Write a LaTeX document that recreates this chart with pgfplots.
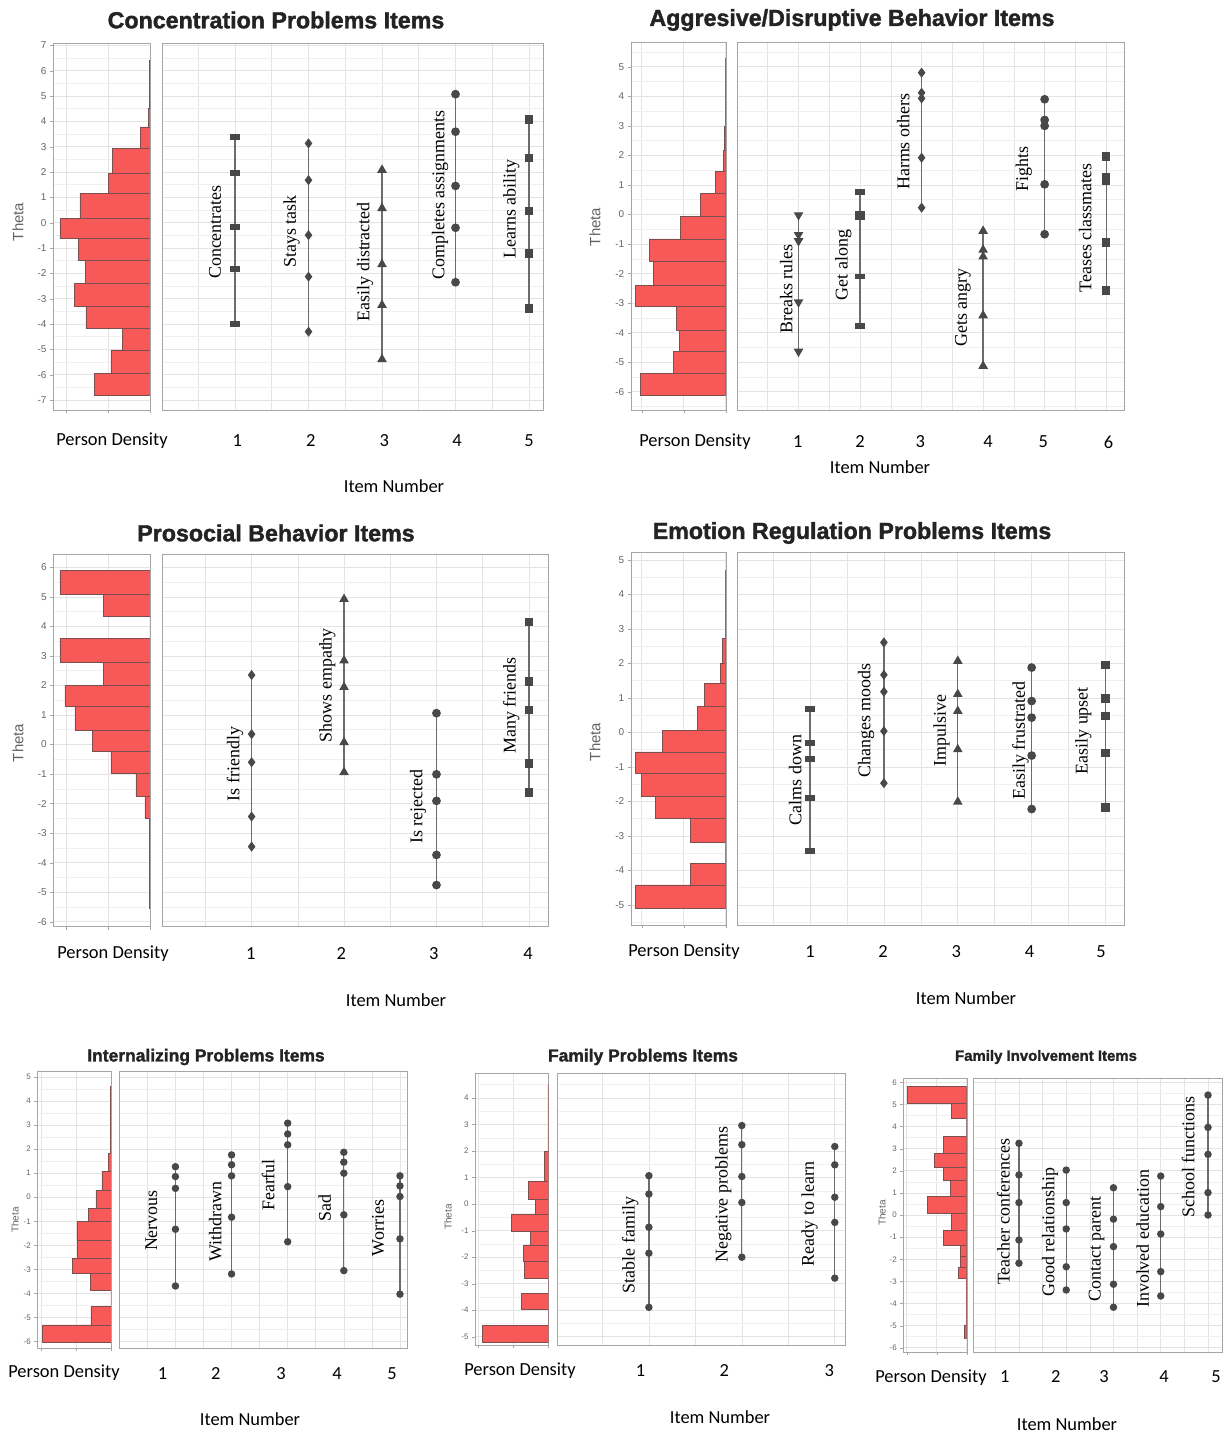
\documentclass[border=0pt]{standalone}
\usepackage{pgfplots}
\pgfplotsset{compat=1.18}
\usepackage{fontspec}
\setmainfont{Liberation Serif}
\newfontfamily\arialf{Liberation Sans}
\newfontfamily\titlef{Liberation Sans}[BoldFeatures={FakeBold=1.6}]
\newfontfamily\calf{Carlito}
\definecolor{barred}{RGB}{247,88,88}
\definecolor{bardark}{RGB}{125,78,78}
\definecolor{itemc}{RGB}{72,72,72}
\definecolor{linec}{RGB}{108,108,108}
\definecolor{gridc}{RGB}{228,228,228}
\definecolor{axc}{RGB}{165,165,165}
\definecolor{tickc}{RGB}{100,100,100}
\newcommand\lbl{\fontsize{18}{18}\selectfont}
\newcommand\calfs{\calf\fontsize{18.5}{18.5}\selectfont}
\pgfplotsset{
  base/.style={scale only axis, anchor=north west, axis line style={draw=axc},
    grid=both, major grid style={draw=gridc, line width=0.6bp},
    minor grid style={draw=gridc!55, line width=0.5bp},
    ytick distance=1, minor y tick num=1,
    /pgf/number format/assume math mode=true, tick style={draw=axc}},
  hist/.style={base, x dir=reverse, xmin=0, tick align=outside, ytick pos=left,
    xtick pos=bottom, major tick length=3bp, minor tick length=0bp, xticklabels={},
    yticklabel style={font=\arialf\fontsize{#1}{#1}\selectfont, text=tickc}},
  items/.style={base, major tick length=0bp, minor tick length=0bp, yticklabels={},
    xticklabels={}, xtick distance=0.5,
    extra x tick style={grid=none, xticklabel style={anchor=center, font=\calfs, text=black, yshift=-#1}}},
  barsty/.style={xbar interval, fill=barred, draw=bardark, line width=0.5bp},
  itl/.style={draw=linec, line width=1.3bp},
  mrect/.style={itl, mark=square*, mark size=3.8bp, mark options={solid, fill=itemc, draw=itemc, xscale=1.2, yscale=0.6}},
  mdiam/.style={itl, mark=diamond*, mark size=4bp, mark options={solid, fill=itemc, draw=itemc}},
  mtri/.style={itl, mark=triangle*, mark size=4.3bp, mark options={solid, fill=itemc, draw=itemc}},
  mtrid/.style={itl, mark=triangle*, mark size=4.3bp, mark options={solid, fill=itemc, draw=itemc, rotate=180}},
  mcirc/.style={itl, mark=*, mark size=3.7bp, mark options={solid, fill=itemc, draw=itemc}},
  msq/.style={itl, mark=square*, mark size=3.6bp, mark options={solid, fill=itemc, draw=itemc}},
  mdot/.style={draw=linec, line width=1.2bp, mark=*, mark size=3.1bp, mark options={solid, fill=itemc, draw=itemc}},
}
\begin{document}
\begin{tikzpicture}
\useasboundingbox (0,0) rectangle (1225bp,1436bp);
% ---------------- Titles and labels
\begin{scope}[text={rgb,255:red,35;green,35;blue,35}]
\node[font=\titlef\bfseries\fontsize{23.3}{23.3}\selectfont] at (276bp,1416bp) {Concentration Problems Items};
\node[font=\titlef\bfseries\fontsize{23.3}{23.3}\selectfont] at (852bp,1416bp) {Aggresive/Disruptive Behavior Items};
\node[font=\titlef\bfseries\fontsize{23.3}{23.3}\selectfont] at (276bp,903bp) {Prosocial Behavior Items};
\node[font=\titlef\bfseries\fontsize{23.3}{23.3}\selectfont] at (852bp,903bp) {Emotion Regulation Problems Items};
\node[font=\titlef\bfseries\fontsize{17.5}{17.5}\selectfont] at (206bp,379bp) {Internalizing Problems Items};
\node[font=\titlef\bfseries\fontsize{17.5}{17.5}\selectfont] at (643bp,379bp) {Family Problems Items};
\node[font=\titlef\bfseries\fontsize{15}{15}\selectfont] at (1046bp,379bp) {Family Involvement Items};
\end{scope}
\begin{scope}[font=\calfs]
\node at (112bp,995bp) {Person Density};
\node at (695bp,994bp) {Person Density};
\node at (113bp,482bp) {Person Density};
\node at (684bp,484bp) {Person Density};
\node at (64bp,63bp) {Person Density};
\node at (520bp,65bp) {Person Density};
\node at (931bp,58bp) {Person Density};
\node at (394bp,950bp) {Item Number};
\node at (880bp,969bp) {Item Number};
\node at (396bp,436bp) {Item Number};
\node at (966bp,438bp) {Item Number};
\node at (250bp,17bp) {Item Number};
\node at (720bp,19bp) {Item Number};
\node at (1067bp,12bp) {Item Number};
\end{scope}
\begin{scope}[text=tickc]
\node[rotate=90, font=\arialf\fontsize{15}{15}\selectfont] at (18bp,1214bp) {Theta};
\node[rotate=90, font=\arialf\fontsize{15}{15}\selectfont] at (595bp,1209bp) {Theta};
\node[rotate=90, font=\arialf\fontsize{15}{15}\selectfont] at (18bp,693bp) {Theta};
\node[rotate=90, font=\arialf\fontsize{15}{15}\selectfont] at (595bp,694bp) {Theta};
\node[rotate=90, font=\arialf\fontsize{10}{10}\selectfont] at (15bp,216bp) {Theta};
\node[rotate=90, font=\arialf\fontsize{10}{10}\selectfont] at (448bp,219bp) {Theta};
\node[rotate=90, font=\arialf\fontsize{10}{10}\selectfont] at (882bp,223bp) {Theta};
\end{scope}

% ================= Panel 1: Concentration
\begin{axis}[hist=10, at={(53bp,1393bp)}, width=97bp, height=367bp, xmax=97, ymin=-7.39, ymax=7.09, xtick={0,42,84}]
\addplot[barsty] coordinates {(55.7,-6.79) (39,-5.94) (27.3,-5.02) (64,-4.17) (75.7,-3.31) (64.7,-2.39) (71.3,-1.47) (90,-0.62) (70,0.17) (41.7,1.16) (37.3,1.94) (9.7,2.93) (1.5,3.78) (0.5,4.5) (0,6.4)};
\end{axis}
\begin{axis}[items=31bp, at={(162bp,1393bp)}, width=381bp, height=367bp, xmin=0.007, xmax=5.19, ymin=-7.39, ymax=7.09,
  extra x ticks={1.03,2.03,3.03,4.02,5}, extra x tick labels={1,2,3,4,5}]
\addplot[mrect] coordinates {(1,3.39) (1,1.95) (1,-0.18) (1,-1.84) (1,-4.01)};
\addplot[mdiam] coordinates {(2,3.13) (2,1.68) (2,-0.49) (2,-2.13) (2,-4.30)};
\addplot[mtri] coordinates {(3,2.08) (3,0.57) (3,-1.64) (3,-3.25) (3,-5.39)};
\addplot[mcirc] coordinates {(4,5.07) (4,3.59) (4,1.45) (4,-0.20) (4,-2.35)};
\addplot[msq] coordinates {(5,4.08) (5,2.56) (5,0.46) (5,-1.21) (5,-3.38)};
\node[rotate=90, font=\lbl] at (axis cs:0.73,-0.37) {Concentrates};
\node[rotate=90, font=\lbl] at (axis cs:1.77,-0.35) {Stays task};
\node[rotate=90, font=\lbl] at (axis cs:2.77,-1.54) {Easily distracted};
\node[rotate=90, font=\lbl] at (axis cs:3.79,1.09) {Completes assignments};
\node[rotate=90, font=\lbl] at (axis cs:4.76,0.54) {Learns ability};
\end{axis}

% ================= Panel 2: Aggressive
\begin{axis}[hist=10, at={(630.7bp,1394bp)}, width=95bp, height=368bp, xmax=95, ymin=-6.62, ymax=5.84, xtick={0,42,84}]
\addplot[barsty] coordinates {(85.7,-6.11) (52.3,-5.37) (46,-4.64) (49,-3.91) (90,-3.12) (72.3,-2.39) (76.7,-1.60) (45.7,-0.83) (25,-0.07) (10,0.72) (2.7,1.45) (1.7,2.18) (0.5,2.97) (0,5.29)};
\end{axis}
\begin{axis}[items=32bp, at={(737.3bp,1394bp)}, width=386.7bp, height=368bp, xmin=0.005, xmax=6.29, ymin=-6.62, ymax=5.84,
  extra x ticks={0.99,2.0,2.98,4.08,4.98,6.04}, extra x tick labels={1,2,3,4,5,6}]
\addplot[mtrid] coordinates {(1,-0.02) (1,-0.69) (1,-0.90) (1,-2.97) (1,-4.64)};
\addplot[mrect] coordinates {(2,0.77) (2,0.02) (2,-0.08) (2,-2.10) (2,-3.77)};
\addplot[mdiam] coordinates {(3,4.80) (3,4.12) (3,3.93) (3,1.92) (3,0.23)};
\addplot[mtri] coordinates {(4,-0.56) (4,-1.20) (4,-1.43) (4,-3.42) (4,-5.13)};
\addplot[mcirc] coordinates {(5,3.90) (5,3.20) (5,3.00) (5,1.02) (5,-0.67)};
\addplot[msq] coordinates {(6,1.96) (6,1.25) (6,1.13) (6,-0.95) (6,-2.58)};
\node[rotate=90, font=\lbl] at (axis cs:0.80,-2.52) {Breaks rules};
\node[rotate=90, font=\lbl] at (axis cs:1.73,-1.71) {Get along};
\node[rotate=90, font=\lbl] at (axis cs:2.70,2.46) {Harms others};
\node[rotate=90, font=\lbl] at (axis cs:3.67,-3.15) {Gets angry};
\node[rotate=90, font=\lbl] at (axis cs:4.66,1.54) {Fights};
\node[rotate=90, font=\lbl] at (axis cs:5.66,-0.46) {Teases classmates};
\end{axis}

% ================= Panel 3: Prosocial
\begin{axis}[hist=10, at={(53.3bp,882bp)}, width=96.7bp, height=372.7bp, xmax=96.7, ymin=-6.17, ymax=6.45, xtick={0,42,84}]
\addplot[barsty] coordinates {(0.5,-5.55) (5,-2.50) (14,-1.77) (39,-0.98) (57.3,-0.24) (75,0.49) (85,1.28) (46.3,2.01) (90,2.80) (0,3.60) (46.3,4.33) (90,5.08) (0,5.89)};
\end{axis}
\begin{axis}[items=27bp, at={(161.7bp,882bp)}, width=386.6bp, height=372.7bp, xmin=0.027, xmax=4.21, ymin=-6.17, ymax=6.45,
  extra x ticks={0.99,1.97,2.97,3.99}, extra x tick labels={1,2,3,4}]
\addplot[mdiam] coordinates {(1,2.35) (1,0.35) (1,-0.60) (1,-2.44) (1,-3.46)};
\addplot[mtri] coordinates {(2,4.92) (2,2.84) (2,1.94) (2,0.07) (2,-0.94)};
\addplot[mcirc] coordinates {(3,1.06) (3,-1.01) (3,-1.91) (3,-3.74) (3,-4.76)};
\addplot[msq] coordinates {(4,4.14) (4,2.13) (4,1.17) (4,-0.65) (4,-1.62)};
\node[rotate=90, font=\lbl] at (axis cs:0.82,-0.66) {Is friendly};
\node[rotate=90, font=\lbl] at (axis cs:1.82,2.01) {Shows empathy};
\node[rotate=90, font=\lbl] at (axis cs:2.80,-2.11) {Is rejected};
\node[rotate=90, font=\lbl] at (axis cs:3.81,1.31) {Many friends};
\end{axis}

% ================= Panel 4: Emotion regulation
\begin{axis}[hist=10, at={(630.7bp,883.3bp)}, width=95bp, height=372.3bp, xmax=95, ymin=-5.58, ymax=5.21, xtick={0,42,84}]
\addplot[barsty] coordinates {(90,-5.10) (35.7,-4.42) (0,-3.79) (35,-3.17) (70,-2.49) (84.3,-1.86) (90,-1.18) (63.3,-0.56) (28.3,0.07) (21,0.75) (5.7,1.43) (3.3,2.01) (0.5,2.73) (0,4.69)};
\end{axis}
\begin{axis}[items=27bp, at={(737.3bp,883.3bp)}, width=386.7bp, height=372.3bp, xmin=0.016, xmax=5.25, ymin=-5.58, ymax=5.21,
  extra x ticks={1.0,1.99,2.98,3.97,4.94}, extra x tick labels={1,2,3,4,5}]
\addplot[mrect] coordinates {(1,0.67) (1,-0.30) (1,-0.78) (1,-1.89) (1,-3.43)};
\addplot[mdiam] coordinates {(2,2.61) (2,1.67) (2,1.18) (2,0.04) (2,-1.47)};
\addplot[mtri] coordinates {(3,2.07) (3,1.11) (3,0.62) (3,-0.49) (3,-2.01)};
\addplot[mcirc] coordinates {(4,1.88) (4,0.91) (4,0.43) (4,-0.67) (4,-2.22)};
\addplot[msq] coordinates {(5,1.96) (5,0.99) (5,0.48) (5,-0.60) (5,-2.18)};
\node[rotate=90, font=\lbl] at (axis cs:0.80,-1.38) {Calms down};
\node[rotate=90, font=\lbl] at (axis cs:1.76,0.34) {Changes moods};
\node[rotate=90, font=\lbl] at (axis cs:2.78,0.05) {Impulsive};
\node[rotate=90, font=\lbl] at (axis cs:3.85,-0.24) {Easily frustrated};
\node[rotate=90, font=\lbl] at (axis cs:4.70,0.05) {Easily upset};
\end{axis}

% ================= Panel 5: Internalizing
\begin{axis}[hist=8, at={(37.3bp,364.3bp)}, width=73.7bp, height=276.6bp, xmax=73.7, ymin=-6.28, ymax=5.22, xtick={0,35,70}]
\addplot[barsty] coordinates {(68.3,-6.01) (20,-5.31) (0,-4.55) (20.7,-3.86) (38.3,-3.16) (33.3,-2.54) (34,-1.78) (22.3,-1.01) (15,-0.46) (9,0.30) (2.7,1.07) (0.5,1.83) (0,4.6)};
\end{axis}
\begin{axis}[items=25bp, at={(119.3bp,364.3bp)}, width=287.4bp, height=276.6bp, xmin=0, xmax=5.12, ymin=-6.28, ymax=5.22,
  extra x ticks={0.77,1.72,2.88,3.88,4.86}, extra x tick labels={1,2,3,4,5}]
\addplot[mdot] coordinates {(1,1.27) (1,0.86) (1,0.37) (1,-1.33) (1,-3.69)};
\addplot[mdot] coordinates {(2,1.76) (2,1.35) (2,0.89) (2,-0.83) (2,-3.19)};
\addplot[mdot] coordinates {(3,3.08) (3,2.63) (3,2.18) (3,0.44) (3,-1.85)};
\addplot[mdot] coordinates {(4,1.87) (4,1.46) (4,1.00) (4,-0.73) (4,-3.05)};
\addplot[mdot] coordinates {(5,0.89) (5,0.47) (5,0.03) (5,-1.73) (5,-4.03)};
\node[rotate=90, font=\lbl] at (axis cs:0.57,-0.97) {Nervous};
\node[rotate=90, font=\lbl] at (axis cs:1.71,-1.01) {Withdrawn};
\node[rotate=90, font=\lbl] at (axis cs:2.65,0.51) {Fearful};
\node[rotate=90, font=\lbl] at (axis cs:3.66,-0.43) {Sad};
\node[rotate=90, font=\lbl] at (axis cs:4.61,-1.28) {Worries};
\end{axis}

% ================= Panel 6: Family problems
\begin{axis}[hist=8, at={(475bp,362.7bp)}, width=73.3bp, height=271.7bp, xmax=73.3, ymin=-5.31, ymax=4.93, xtick={0,35,70}]
\addplot[barsty] coordinates {(66,-5.19) (0,-4.56) (26.7,-3.96) (0,-3.36) (24,-2.79) (25,-2.17) (18.3,-1.54) (37.3,-1.03) (13.3,-0.37) (20,0.19) (4,0.85) (0.5,1.99) (0,4.5)};
\end{axis}
\begin{axis}[items=26bp, at={(556.7bp,362.7bp)}, width=288.3bp, height=271.7bp, xmin=0.008, xmax=3.11, ymin=-5.31, ymax=4.93,
  extra x ticks={0.91,1.81,2.94}, extra x tick labels={1,2,3}]
\addplot[mdot] coordinates {(1,1.07) (1,0.38) (1,-0.87) (1,-1.85) (1,-3.89)};
\addplot[mdot] coordinates {(2,2.96) (2,2.24) (2,1.04) (2,0.06) (2,-2.00)};
\addplot[mdot] coordinates {(3,2.17) (3,1.48) (3,0.26) (3,-0.69) (3,-2.79)};
\node[rotate=90, font=\lbl] at (axis cs:0.80,-1.54) {Stable family};
\node[rotate=90, font=\lbl] at (axis cs:1.80,0.35) {Negative problems};
\node[rotate=90, font=\lbl] at (axis cs:2.73,-0.37) {Ready to learn};
\end{axis}

% ================= Panel 7: Family involvement
\begin{axis}[hist=8, at={(903.3bp,357.7bp)}, width=63.4bp, height=273.4bp, xmax=63.4, ymin=-6.18, ymax=6.18, xtick={0,30,60}]
\addplot[barsty] coordinates {(2.5,-5.57) (0.5,-4.97) (8,-2.86) (6.7,-2.37) (6.7,-1.88) (23.3,-1.36) (15,-0.68) (39,0.08) (16.7,0.83) (23.3,1.58) (32.3,2.18) (23.3,2.79) (0,3.54) (15.7,4.37) (59,5.05) (0,5.80)};
\end{axis}
\begin{axis}[items=25bp, at={(973.3bp,357.7bp)}, width=248.4bp, height=273.4bp, xmin=0.034, xmax=5.29, ymin=-6.18, ymax=6.18,
  extra x ticks={0.70,1.78,2.80,4.07,5.17}, extra x tick labels={1,2,3,4,5}]
\addplot[mdot] coordinates {(1,3.24) (1,1.81) (1,0.56) (1,-1.13) (1,-2.18)};
\addplot[mdot] coordinates {(2,2.03) (2,0.56) (2,-0.63) (2,-2.34) (2,-3.39)};
\addplot[mdot] coordinates {(3,1.23) (3,-0.19) (3,-1.43) (3,-3.13) (3,-4.17)};
\addplot[mdot] coordinates {(4,1.76) (4,0.38) (4,-0.86) (4,-2.56) (4,-3.66)};
\addplot[mdot] coordinates {(5,5.42) (5,3.96) (5,2.74) (5,1.01) (5,0.00)};
\node[rotate=90, font=\lbl] at (axis cs:0.67,0.15) {Teacher conferences};
\node[rotate=90, font=\lbl] at (axis cs:1.66,-0.78) {Good relationship};
\node[rotate=90, font=\lbl] at (axis cs:2.64,-1.54) {Contact parent};
\node[rotate=90, font=\lbl] at (axis cs:3.62,-1.08) {Involved education};
\node[rotate=90, font=\lbl] at (axis cs:4.58,2.61) {School functions};
\end{axis}
\end{tikzpicture}
\end{document}
